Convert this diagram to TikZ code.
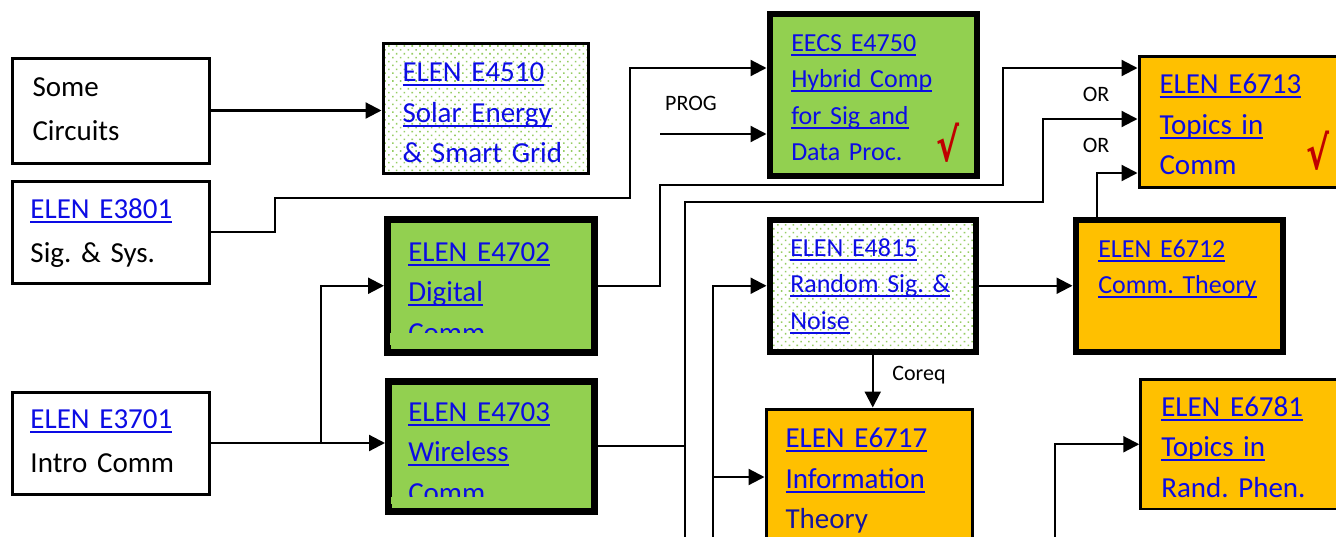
\documentclass[tikz,border=0pt]{standalone}
\usepackage{fontspec}
\setmainfont{Carlito}
\newfontfamily\symfont{DejaVu Sans}
\usetikzlibrary{arrows.meta,patterns.meta}
\definecolor{leaf}{HTML}{92D050}
\definecolor{amber}{HTML}{FFC000}
\definecolor{lnkblue}{RGB}{12,12,228}
\definecolor{navy}{RGB}{20,20,160}
\definecolor{dotgrn}{RGB}{150,205,100}
\definecolor{chkred}{HTML}{C00000}
\newcommand\lnk[1]{\leavevmode\setbox0\hbox{#1}\rlap{\rule[-4.5pt]{\wd0}{2pt}}\box0}
\frenchspacing

\begin{document}
\begin{tikzpicture}[x=1pt,y=-1pt,>={Triangle[length=16pt,width=16pt]},
  box/.style={draw,rectangle,anchor=north west,align=left,inner ysep=0pt,line width=3pt},
  fat/.style={line width=6.5pt},
  hd/.style n args={4}{text height=#1pt,text depth=#2pt,inner xsep=#3pt,text width=#4pt},
  lbox/.style={font=\fontsize{29}{44}\selectfont},
  big/.style={font=\fontsize{29}{40.5}\selectfont},
  small/.style={font=\fontsize{26}{36.5}\selectfont},
  speckle/.style={pattern={Dots[distance=5.5pt,angle=45,radius=1.1pt]},pattern color=dotgrn},
  lbl/.style={font=\fontsize{22}{24}\selectfont,inner sep=0pt},
  chk/.style={text=chkred,font=\symfont\bfseries\fontsize{46}{46}\selectfont,inner sep=0pt},
  wire/.style={line width=2.2pt}]
\useasboundingbox (0,0) rectangle (1336,536);

% prerequisites on the left
\node[box,lbox,hd={38.5}{66.5}{20.5}{156}] (circ) at (10.5,56.5) {Some\\Circuits};
\node[box,lbox,hd={37.5}{64.5}{18.5}{160}] (sig) at (10.5,179.5) {\textcolor{lnkblue}{\lnk{ELEN E3801}}\\Sig. \& Sys.};
\node[box,lbox,hd={36.5}{65.5}{18.5}{160}] (com) at (10.5,390.5) {\textcolor{lnkblue}{\lnk{ELEN E3701}}\\Intro Comm};

% 4000 level
\node[box,speckle,big,text=lnkblue,hd={38.5}{91.5}{19.5}{166}] (sol) at (381.5,41.5) {\lnk{ELEN E4510}\\\lnk{Solar Energy}\\\& Smart Grid};
\node[box,fat,fill=leaf,big,text=lnkblue,hd={42}{91}{21}{165}] (dig) at (384,216) {\lnk{ELEN E4702}\\\lnk{Digital}\\Comm.};
\node[box,fat,fill=leaf,big,text=lnkblue,hd={40}{90}{20}{166}] (wir) at (385,378) {\lnk{ELEN E4703}\\\lnk{Wireless}\\Comm.};
\fill[leaf] (390,333) rectangle (585,345.2);
\fill[leaf] (391,497) rectangle (585,504.2);
\node[box,fat,fill=leaf,small,text=lnkblue,hd={37.5}{124.5}{21.5}{164}] (hyb) at (766.5,10.5) {\lnk{EECS E4750}\\\lnk{Hybrid Comp}\\\lnk{for Sig and}\\Data Proc.};
\node[box,fat,speckle,small,text=lnkblue,hd={36.5}{95.5}{20.5}{165}] (rnd) at (766.5,216.5) {\lnk{ELEN E4815}\\\lnk{Random Sig. \&}\\\lnk{Noise}};

% 6000 level
\node[box,fill=amber,big,text=lnkblue,hd={37.5}{93.5}{20.5}{165}] (top) at (1137.5,54.5) {\lnk{ELEN E6713}\\\lnk{Topics in}\\Comm};
\node[box,fat,fill=amber,small,text=lnkblue,hd={37.5}{94.5}{22.5}{162}] (cth) at (1072.5,216.5) {\lnk{ELEN E6712}\\\lnk{Comm. Theory}};
\node[box,fill=amber,big,text=lnkblue,hd={38.5}{160}{19.5}{167}] (inf) at (764.5,407.5) {\lnk{ELEN E6717}\\\lnk{Information}\\\textcolor{navy}{Theory}};
\node[box,line width=2.5pt,fill=amber,big,text=lnkblue,hd={36.75}{92.75}{20.75}{163}] (rph) at (1139.25,378.25) {\lnk{ELEN E6781}\\\lnk{Topics in}\\Rand. Phen.};

\node[chk] (ok1) at (948,143) {\scalebox{0.75}[1]{√}};
\node[chk] (ok2) at (1318,151) {\scalebox{0.75}[1]{√}};

% connectors
\coordinate (prog) at (660,134);
\coordinate (lo1) at (685,545);
\coordinate (lo2) at (713,545);
\coordinate (lo3) at (1055,545);
\draw[wire,->] (circ.east) -- (circ.east -| sol.west);
\draw[wire,->] (sig.east) -| (275,198) -| (630,68) -- (hyb.west |- 0,68);
\draw[wire,->] (prog) -- (prog -| hyb.west);
\node[lbl] (pl) at (691,103) {PROG};
\draw[wire,->] (com.east) -- (com.east -| wir.west);
\draw[wire,->] (com.east -| 321,0) |- (dig.west);
\draw[wire,->] (dig.east) -| (660,185) -| (1003,68) -- (top.west |- 0,68);
\draw[wire,->] (wir.east) -| (685,202) -| (1043,119) -- (top.west |- 0,119);
\draw[wire] (wir.east -| lo1) -- (lo1);
\draw[wire,->] (cth.north -| 1097,0) |- (top.west |- 0,173);
\node[lbl] (or1) at (1096,94) {OR};
\node[lbl] (or2) at (1096,145) {OR};
\draw[wire,->] (lo2) |- (rnd.west);
\draw[wire,->] (lo2 |- 0,477) -- (inf.west |- 0,477);
\draw[wire,->] (rnd) -- (cth);
\draw[wire,->] (rnd.south) -- (rnd.south |- inf.north);
\node[lbl] (cq) at (919,375) {Coreq};
\draw[wire,->] (lo3) |- (rph.west);
\end{tikzpicture}
\end{document}
